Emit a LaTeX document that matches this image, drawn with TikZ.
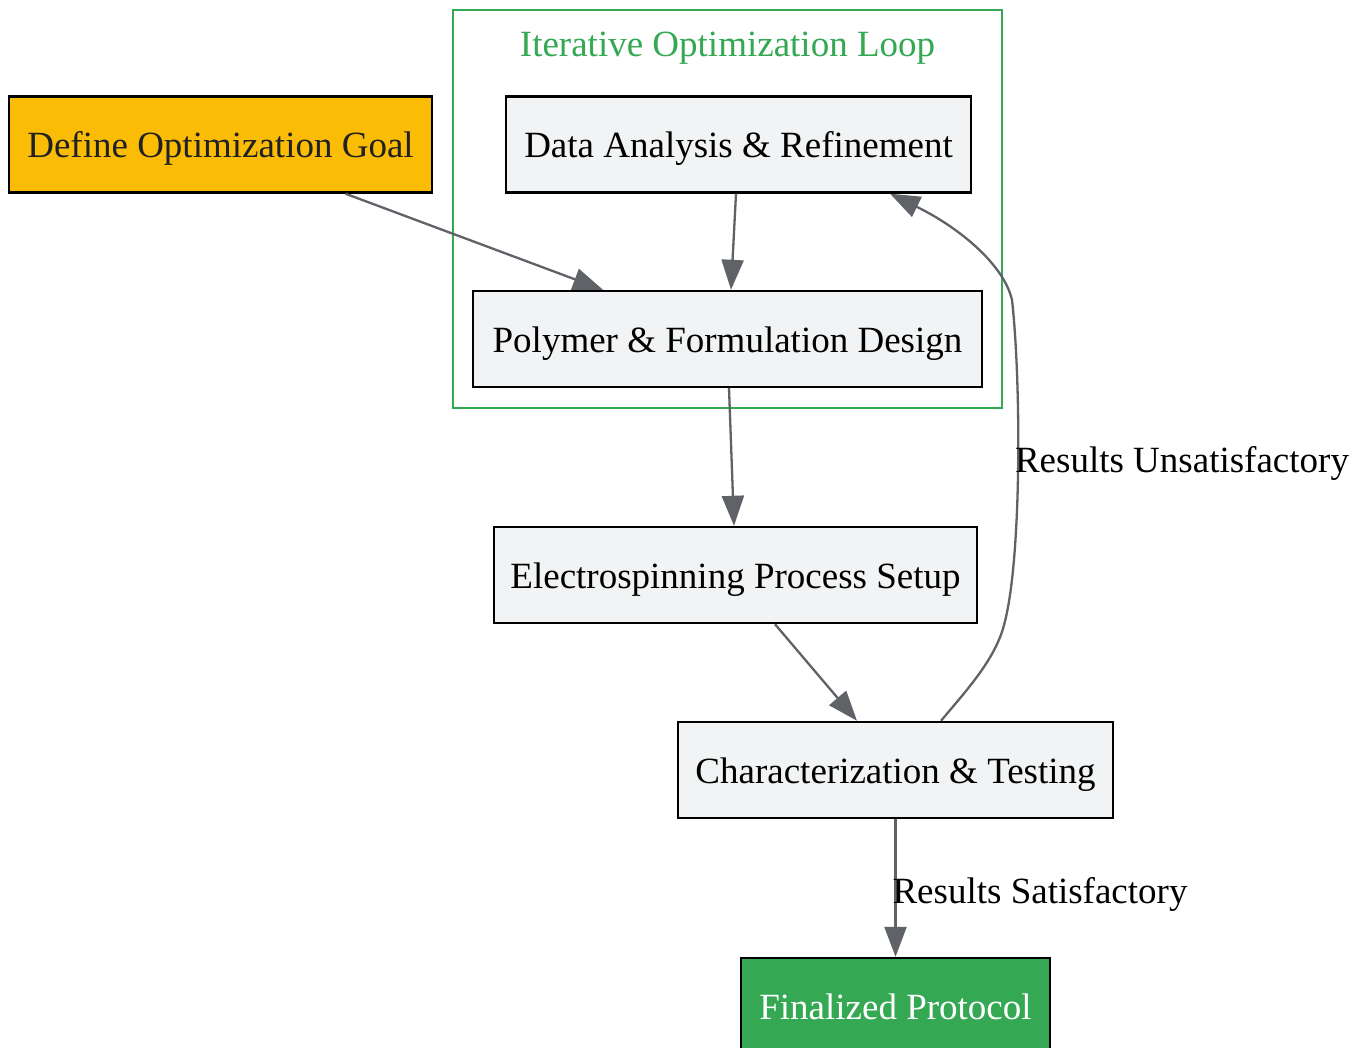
\documentclass[tikz,border=0pt]{standalone}
\usepackage{fontspec}
\setmainfont{Liberation Serif}
\usetikzlibrary{arrows.meta,calc}
\definecolor{edgegray}{HTML}{5F6368}
\definecolor{boxgray}{HTML}{F1F3F4}
\definecolor{goalorange}{HTML}{FBBC05}
\definecolor{loopgreen}{HTML}{34A853}
\definecolor{darktext}{HTML}{202124}
\begin{document}
\begin{tikzpicture}[x=1pt,y=-1pt,
  box/.style={draw=black, line width=2.4pt, fill=boxgray, minimum height=96pt, inner sep=0pt,
    text height=30pt, text depth=4pt,
    font=\fontsize{37}{44}\selectfont, text=black},
  cluster/.style={draw=loopgreen, line width=2pt, inner sep=0pt},
  lbl/.style={font=\fontsize{37}{44}\selectfont, inner sep=0pt, text height=30pt, text depth=4pt},
  flow/.style={draw=edgegray, line width=2.3pt, -{Triangle[length=30pt,width=22pt]}, edgegray}
]
\useasboundingbox (0,0) rectangle (1364,1048);
\fill[white] (0,0) rectangle (1364,1048);

\node[cluster, minimum width=549pt, minimum height=398pt] (loop) at (727.5,209) {};
\node[lbl, text=loopgreen] (looplabel) at (727.5,44) {Iterative Optimization Loop};

\node[box, fill=goalorange, text=darktext, minimum width=423pt] (goal) at (220.5,144.5) {Define Optimization Goal};
\node[box, minimum width=465pt] (data) at (738.5,144.5) {Data Analysis \& Refinement};
\node[box, minimum width=509pt] (poly) at (727.5,339) {Polymer \& Formulation Design};
\node[box, minimum width=483pt] (elec) at (735.5,575) {Electrospinning Process Setup};
\node[box, minimum width=435pt] (char) at (895.5,770) {Characterization \& Testing};
\node[box, fill=loopgreen, text=white, minimum width=309pt] (final) at (895.5,1006) {Finalized Protocol};

\draw[flow] ([xshift=125pt]goal.south) -- ([xshift=-124.5pt]poly.north);
\draw[flow] ([xshift=-2.5pt]data.south) -- ([xshift=3.5pt]poly.north);
\draw[flow] ([xshift=1.5pt]poly.south) -- ([xshift=-1.5pt]elec.north);
\draw[flow] ([xshift=39.5pt]elec.south) -- ([xshift=-38.5pt]char.north);
\draw[flow] ([xshift=45.5pt]char.north) .. controls (965,692) and (995,660) .. (1004,625)
  .. controls (1022,560) and (1021,380) .. (1012,300)
  .. controls (1004,265) and (960,228) .. ([xshift=151.5pt]data.south);
\draw[flow] (char.south) -- (final.north);

\node[lbl] (unsat) at (1182,459) {Results Unsatisfactory};
\node[lbl] (sat) at (1040,890) {Results Satisfactory};
\end{tikzpicture}
\end{document}
